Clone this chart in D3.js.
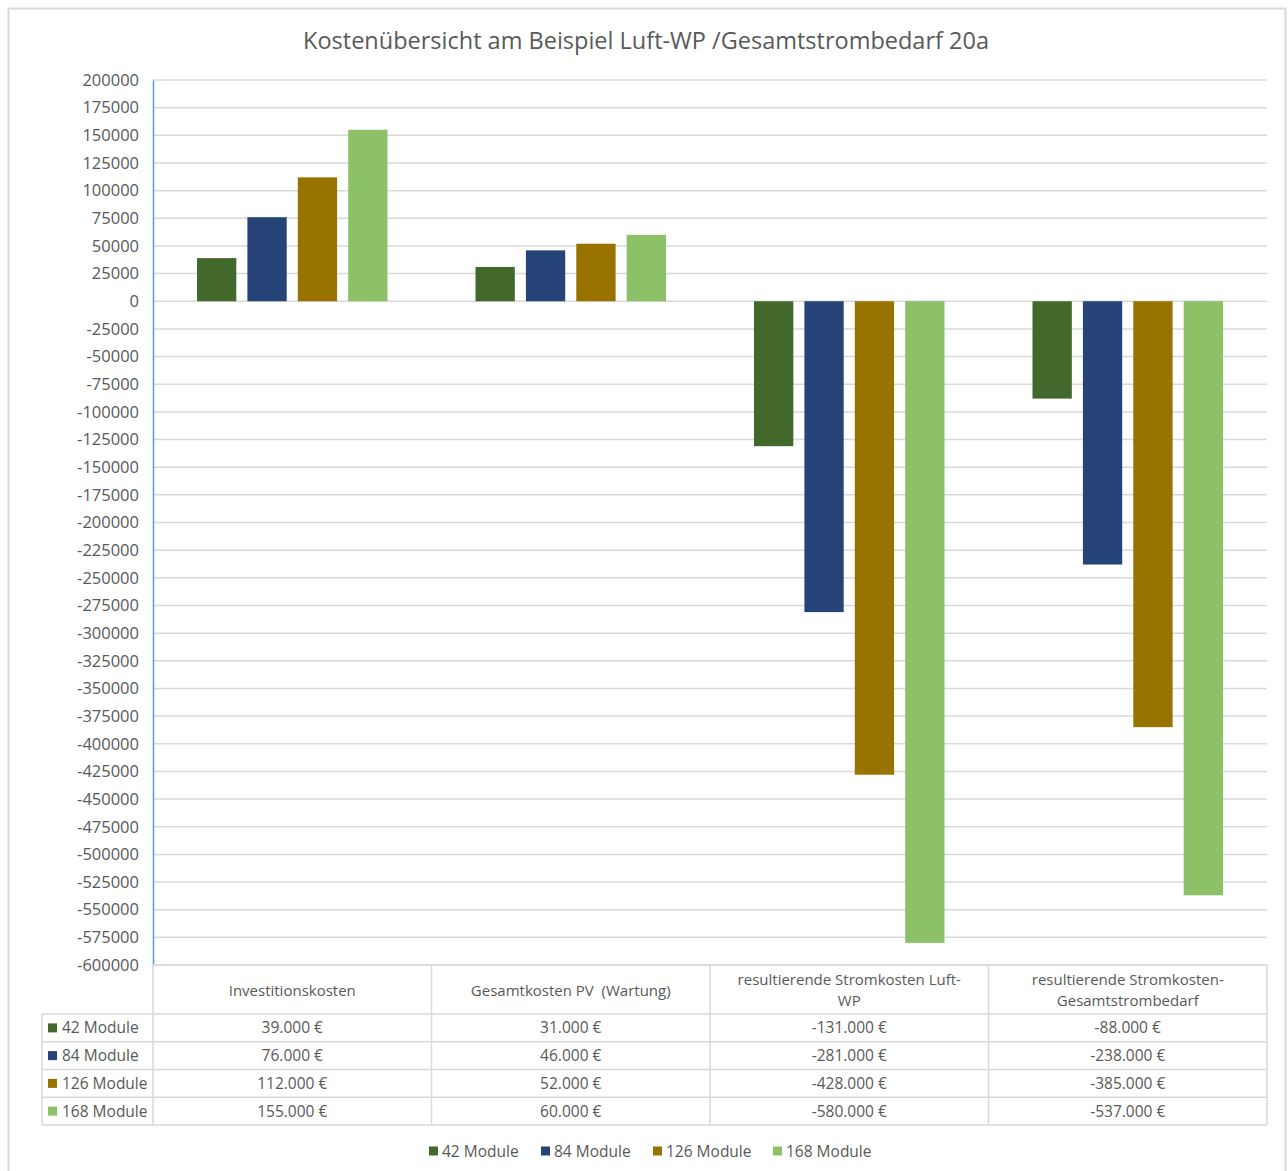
<!DOCTYPE html>
<html>
<script src="https://d3js.org/d3.v7.min.js"></script>
<style>
    body { margin: 0; background: #fff; }
    svg text { font-family: "Open Sans", sans-serif; fill: #595959; white-space: pre; }
</style>
<body>
<script>
    const width = 1288, height = 1171;

    const categories = ["Investitionskosten", "Gesamtkosten PV  (Wartung)",
        "resultierende Stromkosten Luft-WP", "resultierende Stromkosten-Gesamtstrombedarf"];
    const categoryLines = [["Investitionskosten"], ["Gesamtkosten PV  (Wartung)"],
        ["resultierende Stromkosten Luft-", "WP"], ["resultierende Stromkosten-", "Gesamtstrombedarf"]];
    const seriesNames = ["42 Module", "84 Module", "126 Module", "168 Module"];
    const m42 = [39000, 31000, -131000, -88000];
    const m84 = [76000, 46000, -281000, -238000];
    const m126 = [112000, 52000, -428000, -385000];
    const m168 = [155000, 60000, -580000, -537000];
    const colors = ["#43682b", "#264478", "#997300", "#8cc168"];
    const yTicks = d3.range(-600000, 200001, 25000);

    const series = [m42, m84, m126, m168];
    const fmt = v => d3.format(",")(v).replace(/,/g, ".").replace("−", "-") + " €";

    const svg = d3.select("body").append("svg").attr("width", width).attr("height", height);

    // outer frame
    svg.append("path")
        .attr("d", "M8.5,1175V8.5H1285.5V1175")
        .attr("fill", "none").attr("stroke", "#d9d9d9").attr("stroke-width", 2);

    svg.append("text")
        .attr("x", 646).attr("y", 49)
        .attr("text-anchor", "middle")
        .style("font-size", "23.5px")
        .text("Kostenübersicht am Beispiel Luft-WP /Gesamtstrombedarf 20a");

    const plotLeft = 153, plotRight = 1267, plotTop = 80, plotBottom = 965;
    const x0 = d3.scaleBand().domain(categories).range([plotLeft, plotRight]);
    const x1 = d3.scaleBand().domain(seriesNames)
        .range([44, x0.bandwidth() - 44]).paddingInner(0.22);
    const y = d3.scaleLinear().domain([-600000, 200000]).range([plotBottom, plotTop]);

    // gridlines
    svg.append("g").selectAll("line").data(yTicks).join("line")
        .attr("x1", plotLeft).attr("x2", plotRight)
        .attr("y1", d => y(d)).attr("y2", d => y(d))
        .attr("stroke", "#d9d9d9").attr("stroke-width", 1.5);

    // y axis
    const yAxis = svg.append("g")
        .attr("transform", `translate(${plotLeft},0)`)
        .call(d3.axisLeft(y).tickValues(yTicks).tickSize(0).tickPadding(14).tickFormat(d => d));
    yAxis.select(".domain").attr("stroke", "#5b9bd5").attr("stroke-width", 1.5);
    yAxis.selectAll("text").style("font-size", "16.5px").attr("fill", "#595959");

    // bars
    series.forEach((vals, si) => {
        svg.append("g").selectAll("rect").data(vals).join("rect")
            .attr("x", (d, i) => x0(categories[i]) + x1(seriesNames[si]))
            .attr("width", x1.bandwidth())
            .attr("y", d => y(Math.max(0, d)))
            .attr("height", d => Math.abs(y(d) - y(0)))
            .attr("fill", colors[si]);
    });

    // data table
    const headerTop = plotBottom, headerBottom = 1014;
    const rowH = 27.75, tableLeft = 42;
    const rowTop = i => headerBottom + i * rowH;
    const tableBottom = rowTop(seriesNames.length);
    const grid = svg.append("g").attr("stroke", "#d9d9d9").attr("stroke-width", 1.5);
    grid.append("line").attr("x1", plotLeft).attr("x2", plotRight).attr("y1", headerTop).attr("y2", headerTop);
    for (let i = 0; i <= seriesNames.length; i++) {
        grid.append("line").attr("x1", tableLeft).attr("x2", plotRight)
            .attr("y1", rowTop(i)).attr("y2", rowTop(i));
    }
    grid.append("line").attr("x1", tableLeft).attr("x2", tableLeft).attr("y1", headerBottom).attr("y2", tableBottom);
    categories.forEach(c => {
        grid.append("line").attr("x1", x0(c)).attr("x2", x0(c)).attr("y1", headerTop).attr("y2", tableBottom);
    });
    grid.append("line").attr("x1", plotRight).attr("x2", plotRight).attr("y1", headerTop).attr("y2", tableBottom);

    categoryLines.forEach((lines, i) => {
        const cx = x0(categories[i]) + x0.bandwidth() / 2;
        const t = svg.append("text").attr("text-anchor", "middle").style("font-size", "15px");
        const y0 = lines.length === 1 ? 996 : 985;
        lines.forEach((l, j) => t.append("tspan").attr("x", cx).attr("y", y0 + j * 21).text(l));
    });

    seriesNames.forEach((s, si) => {
        const cy = rowTop(si) + rowH / 2;
        svg.append("rect").attr("x", 48).attr("y", cy - 4.5).attr("width", 9).attr("height", 9).attr("fill", colors[si]);
        svg.append("text").attr("x", 62).attr("y", cy + 5.5).style("font-size", "15.5px").text(s);
        series[si].forEach((v, i) => {
            svg.append("text")
                .attr("x", x0(categories[i]) + x0.bandwidth() / 2)
                .attr("y", cy + 5.5)
                .attr("text-anchor", "middle")
                .style("font-size", "15.5px")
                .text(fmt(v));
        });
    });

    // legend
    const legendX = [429, 541, 653, 773];
    const legend = svg.append("g").selectAll("g").data(seriesNames).join("g")
        .attr("transform", (d, i) => `translate(${legendX[i]},1151)`);
    legend.append("rect").attr("x", 0).attr("y", -4.5).attr("width", 9).attr("height", 9).attr("fill", (d, i) => colors[i]);
    legend.append("text").attr("x", 13).attr("y", 5.5).style("font-size", "15.5px").text(d => d);
</script>
</body>
</html>
